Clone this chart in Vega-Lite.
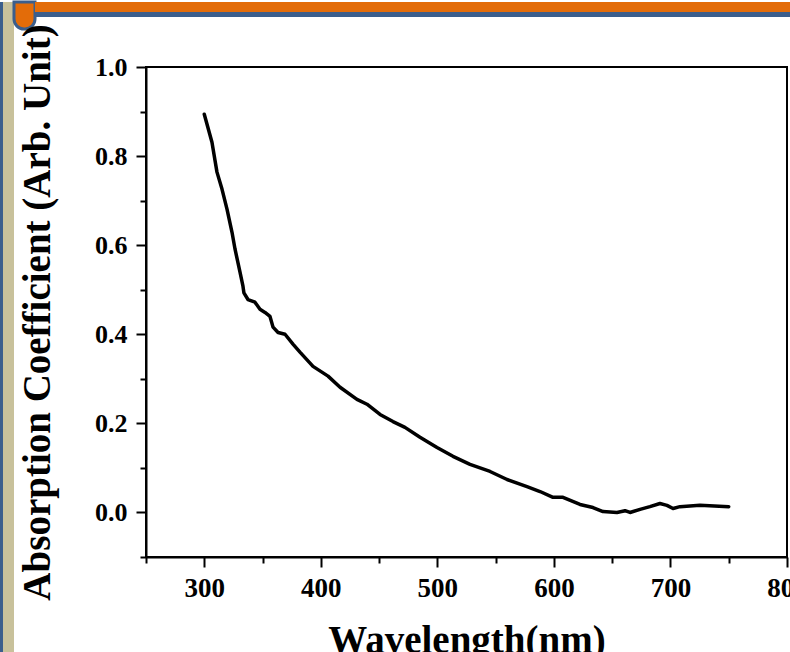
{
  "$schema": "https://vega.github.io/schema/vega-lite/v6.json",
  "padding": 0,
  "background": "white",
  "bounds": "flush",
  "spacing": 0,
  "config": {
    "font": "Liberation Serif",
    "view": {"stroke": null},
    "concat": {"spacing": 0}
  },
  "hconcat": [
    {
      "width": 3, "height": 652,
      "data": {"values": [{}]},
      "mark": {"type": "rect", "fill": "#3b5e8c"},
      "encoding": {}
    },
    {
      "width": 11, "height": 652,
      "data": {"values": [{}]},
      "mark": {"type": "rect", "fill": "#c8c19b"},
      "encoding": {}
    },
    {
      "bounds": "flush",
      "spacing": 0,
      "vconcat": [
        {
          "bounds": "flush",
          "spacing": 0,
          "hconcat": [
            {
              "width": 21, "height": 27,
              "data": {"values": [{}]},
              "mark": {"type": "rect", "fill": "#e36c09", "stroke": "#3b5e8c", "strokeWidth": 3, "cornerRadiusBottomLeft": 10, "cornerRadiusBottomRight": 10},
              "encoding": {}
            },
            {
              "bounds": "flush",
              "spacing": 0,
              "vconcat": [
                {
                  "width": 755, "height": 10,
                  "data": {"values": [{}]},
                  "mark": {"type": "rect", "fill": "#e36c09"},
                  "encoding": {}
                },
                {
                  "width": 755, "height": 5,
                  "data": {"values": [{}]},
                  "mark": {"type": "rect", "fill": "#3b5e8c"},
                  "encoding": {}
                }
              ]
            }
          ]
        },
        {
          "width": 1, "height": 65,
          "data": {"values": [{}]},
          "mark": {"type": "rect", "opacity": 0},
          "encoding": {}
        },
        {
          "bounds": "flush",
          "spacing": 0,
          "hconcat": [
            {
              "width": 132, "height": 1,
              "data": {"values": [{}]},
              "mark": {"type": "rect", "opacity": 0},
              "encoding": {}
            },
            {
              "width": 641,
              "height": 490,
              "view": {"stroke": "black", "strokeWidth": 2},
              "data": {
                "values": [
                  {"wavelength": 300.0, "absorption": 0.894},
                  {"wavelength": 306.6, "absorption": 0.831},
                  {"wavelength": 310.9, "absorption": 0.764},
                  {"wavelength": 315.2, "absorption": 0.726},
                  {"wavelength": 319.5, "absorption": 0.681},
                  {"wavelength": 323.8, "absorption": 0.629},
                  {"wavelength": 326.4, "absorption": 0.591},
                  {"wavelength": 330.7, "absorption": 0.539},
                  {"wavelength": 333.2, "absorption": 0.508},
                  {"wavelength": 334.0, "absorption": 0.493},
                  {"wavelength": 337.5, "absorption": 0.478},
                  {"wavelength": 343.5, "absorption": 0.472},
                  {"wavelength": 347.8, "absorption": 0.456},
                  {"wavelength": 352.1, "absorption": 0.449},
                  {"wavelength": 356.4, "absorption": 0.440},
                  {"wavelength": 359.0, "absorption": 0.416},
                  {"wavelength": 363.3, "absorption": 0.404},
                  {"wavelength": 369.3, "absorption": 0.400},
                  {"wavelength": 376.1, "absorption": 0.378},
                  {"wavelength": 382.1, "absorption": 0.360},
                  {"wavelength": 393.3, "absorption": 0.328},
                  {"wavelength": 406.2, "absorption": 0.306},
                  {"wavelength": 416.5, "absorption": 0.281},
                  {"wavelength": 431.0, "absorption": 0.254},
                  {"wavelength": 439.6, "absorption": 0.243},
                  {"wavelength": 450.8, "absorption": 0.220},
                  {"wavelength": 461.9, "absorption": 0.204},
                  {"wavelength": 472.2, "absorption": 0.191},
                  {"wavelength": 485.1, "absorption": 0.169},
                  {"wavelength": 499.7, "absorption": 0.146},
                  {"wavelength": 513.4, "absorption": 0.126},
                  {"wavelength": 528.0, "absorption": 0.108},
                  {"wavelength": 545.2, "absorption": 0.092},
                  {"wavelength": 559.8, "absorption": 0.074},
                  {"wavelength": 576.9, "absorption": 0.058},
                  {"wavelength": 588.1, "absorption": 0.047},
                  {"wavelength": 599.2, "absorption": 0.034},
                  {"wavelength": 607.8, "absorption": 0.034},
                  {"wavelength": 622.4, "absorption": 0.018},
                  {"wavelength": 633.5, "absorption": 0.011},
                  {"wavelength": 642.1, "absorption": 0.002},
                  {"wavelength": 654.1, "absorption": 0.000},
                  {"wavelength": 661.0, "absorption": 0.004},
                  {"wavelength": 665.3, "absorption": 0.000},
                  {"wavelength": 673.9, "absorption": 0.007},
                  {"wavelength": 682.4, "absorption": 0.013},
                  {"wavelength": 691.0, "absorption": 0.020},
                  {"wavelength": 697.0, "absorption": 0.016},
                  {"wavelength": 702.2, "absorption": 0.009},
                  {"wavelength": 708.2, "absorption": 0.013},
                  {"wavelength": 725.3, "absorption": 0.016},
                  {"wavelength": 750.0, "absorption": 0.013}
                ]
              },
              "mark": {"type": "line", "color": "black", "strokeWidth": 3.5, "strokeJoin": "round", "strokeCap": "round"},
              "encoding": {
                "x": {
                  "field": "wavelength",
                  "type": "quantitative",
                  "scale": {"domain": [250, 800], "nice": false, "zero": false},
                  "axis": {
                    "title": "Wavelength(nm)",
                    "titleFontSize": 39,
                    "titleFontWeight": "bold",
                    "titleColor": "black",
                    "titlePadding": 20,
                    "values": [250, 300, 350, 400, 450, 500, 550, 600, 650, 700, 750, 800],
                    "labelExpr": "datum.value % 100 == 0 ? format(datum.value, 'd') : ''",
                    "labelFontSize": 27,
                    "labelFontWeight": "bold",
                    "labelColor": "black",
                    "labelPadding": 8,
                    "labelFlush": false,
                    "labelOverlap": false,
                    "grid": false,
                    "domainColor": "black",
                    "domainWidth": 2,
                    "tickColor": "black",
                    "tickWidth": 2,
                    "tickSize": {"condition": {"test": "datum.value % 100 == 0", "value": 10}, "value": 6}
                  }
                },
                "y": {
                  "field": "absorption",
                  "type": "quantitative",
                  "scale": {"domain": [-0.1, 1.0], "nice": false, "zero": false},
                  "axis": {
                    "title": "Absorption Coefficient (Arb. Unit)",
                    "titleFontSize": 39,
                    "titleFontWeight": "bold",
                    "titleColor": "black",
                    "titlePadding": 37,
                    "values": [-0.1, 0.0, 0.1, 0.2, 0.3, 0.4, 0.5, 0.6, 0.7, 0.8, 0.9, 1.0],
                    "labelExpr": "(datum.value >= 0 && round(datum.value * 10) % 2 == 0) ? format(datum.value, '.1f') : ''",
                    "labelFontSize": 26,
                    "labelFontWeight": "bold",
                    "labelColor": "black",
                    "labelPadding": 9,
                    "labelFlush": false,
                    "labelOverlap": false,
                    "grid": false,
                    "domainColor": "black",
                    "domainWidth": 2,
                    "tickColor": "black",
                    "tickWidth": 2,
                    "tickSize": {"condition": {"test": "round(datum.value * 10) % 2 == 0", "value": 10}, "value": 6}
                  }
                }
              }
            }
          ]
        }
      ]
    }
  ]
}
